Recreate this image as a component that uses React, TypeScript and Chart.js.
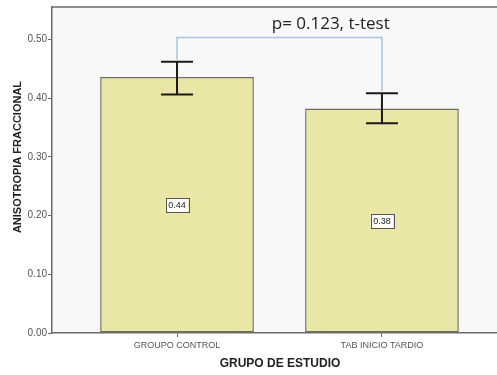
import { useEffect, useRef } from "react";
import { Chart, registerables } from "chart.js";
Chart.register(...registerables);

const categories = ["GROUPO CONTROL", "TAB INICIO TARDIO"];
const means = [0.436, 0.382];
const errLow = [0.406, 0.357];
const errHigh = [0.462, 0.408];
const valueLabels = ["0.44", "0.38"];
const yTicks = [0, 0.1, 0.2, 0.3, 0.4, 0.5];
const pText = "p= 0.123, t-test";
const bracketY = 0.503;
const yTitle = "ANISOTROPIA FRACCIONAL";
const xTitle = "GRUPO DE ESTUDIO";

const NARROW = "'Liberation Sans Narrow', 'Liberation Sans', Arial, sans-serif";
const SANS = "'Liberation Sans', Arial, sans-serif";

export default function App() {
  const ref = useRef<HTMLCanvasElement>(null);
  useEffect(() => {
    if (!ref.current) return;
    const deco = {
      id: "deco",
      beforeDraw(chart: any) {
        const { ctx, chartArea: a } = chart;
        ctx.save();
        ctx.fillStyle = "#f8f8f8";
        ctx.fillRect(a.left, a.top, a.right - a.left, a.bottom - a.top);
        ctx.restore();
      },
      afterDatasetsDraw(chart: any) {
        const { ctx, chartArea: a } = chart;
        const xs = chart.scales.x;
        const ys = chart.scales.y;
        ctx.save();
        // top border
        ctx.strokeStyle = "#6b6b6b";
        ctx.lineWidth = 1.5;
        ctx.beginPath();
        ctx.moveTo(a.left, a.top);
        ctx.lineTo(a.right, a.top);
        ctx.stroke();
        // error bars
        ctx.strokeStyle = "#1a1a1a";
        ctx.lineWidth = 2;
        means.forEach((_, i) => {
          const x = xs.getPixelForValue(i);
          const yl = ys.getPixelForValue(errLow[i]);
          const yh = ys.getPixelForValue(errHigh[i]);
          ctx.beginPath();
          ctx.moveTo(x, yl);
          ctx.lineTo(x, yh);
          ctx.moveTo(x - 16, yh);
          ctx.lineTo(x + 16, yh);
          ctx.moveTo(x - 16, yl);
          ctx.lineTo(x + 16, yl);
          ctx.stroke();
        });
        // value labels
        ctx.font = "9px " + NARROW;
        ctx.textAlign = "center";
        ctx.textBaseline = "middle";
        means.forEach((m, i) => {
          const x = xs.getPixelForValue(i);
          const y = ys.getPixelForValue(m / 2);
          const w = ctx.measureText(valueLabels[i]).width + 5;
          const h = 14;
          ctx.fillStyle = "#ffffff";
          ctx.fillRect(x - w / 2, y - h / 2, w, h);
          ctx.strokeStyle = "#555555";
          ctx.lineWidth = 1;
          ctx.strokeRect(Math.round(x - w / 2) + 0.5, Math.round(y - h / 2) + 0.5, Math.round(w), h);
          ctx.fillStyle = "#222";
          ctx.fillText(valueLabels[i], x, y + 0.5);
        });
        // bracket
        const x0 = xs.getPixelForValue(0);
        const x1 = xs.getPixelForValue(1);
        const yb = ys.getPixelForValue(bracketY);
        ctx.strokeStyle = "#a8c4df";
        ctx.lineWidth = 1.5;
        ctx.beginPath();
        ctx.moveTo(x0, ys.getPixelForValue(errHigh[0]) - 2);
        ctx.lineTo(x0, yb);
        ctx.lineTo(x1, yb);
        ctx.lineTo(x1, ys.getPixelForValue(errHigh[1]) - 2);
        ctx.stroke();
        ctx.fillStyle = "#222";
        ctx.font = "17px 'Open Sans', 'Noto Sans', sans-serif";
        ctx.textAlign = "center";
        ctx.textBaseline = "middle";
        ctx.fillText(pText, xs.getPixelForValue(0.75), a.top + 17);
        // axis titles
        ctx.font = "bold 11px " + SANS;
        ctx.fillStyle = "#222";
        ctx.save();
        ctx.translate(18, 157);
        ctx.rotate(-Math.PI / 2);
        ctx.fillText(yTitle, 0, 0);
        ctx.restore();
        ctx.font = "bold 12px " + SANS;
        ctx.fillText(xTitle, (a.left + a.right) / 2, 364);
        ctx.restore();
      },
    };
    const chart = new Chart(ref.current, {
      type: "bar",
      data: {
        datasets: [
          {
            data: means.map((y, i) => ({ x: i, y })) as any,
            backgroundColor: "#e9e6a6",
            borderColor: "#6e6e5e",
            borderWidth: 1.5,
            borderSkipped: false,
            categoryPercentage: 1,
            barPercentage: 0.75,
          },
        ],
      },
      options: {
        animation: false,
        responsive: false,
        layout: { padding: { top: 7, left: 0, right: 0, bottom: 0 } },
        plugins: { legend: { display: false }, tooltip: { enabled: false } },
        scales: {
          x: {
            type: "linear",
            offset: false,
            min: -0.61,
            max: 1.615,
            afterBuildTicks: (s: any) => {
              s.ticks = categories.map((_, i) => ({ value: i }));
            },
            afterFit: (s: any) => {
              s.height = 42;
            },
            ticks: {
              callback: (v: any) => categories[v] ?? "",
              font: { size: 9, family: NARROW },
              color: "#555",
              padding: 3,
              maxRotation: 0,
            },
            grid: { display: true, offset: false, drawOnChartArea: false, drawTicks: true, tickLength: 4, color: "#666" },
            border: { display: true, color: "#6b6b6b", width: 1.5 },
          },
          y: {
            min: 0,
            max: 0.555,
            afterBuildTicks: (s: any) => {
              s.ticks = yTicks.map((v) => ({ value: v }));
            },
            afterFit: (s: any) => {
              s.width = 52;
            },
            ticks: {
              callback: (v: any) => Number(v).toFixed(2),
              font: { size: 10, family: NARROW },
              color: "#555",
              padding: 1,
            },
            grid: { display: true, drawOnChartArea: false, drawTicks: true, tickLength: 4, color: "#666" },
            border: { display: true, color: "#6b6b6b", width: 1.5 },
          },
        },
      },
      plugins: [deco],
    });
    return () => chart.destroy();
  }, []);
  return (
    <div style={{ position: "fixed", left: 0, top: 0, width: 497, height: 375, overflow: "hidden", background: "#fff" }}>
      <canvas ref={ref} width={508} height={375} style={{ display: "block" }} />
    </div>
  );
}
